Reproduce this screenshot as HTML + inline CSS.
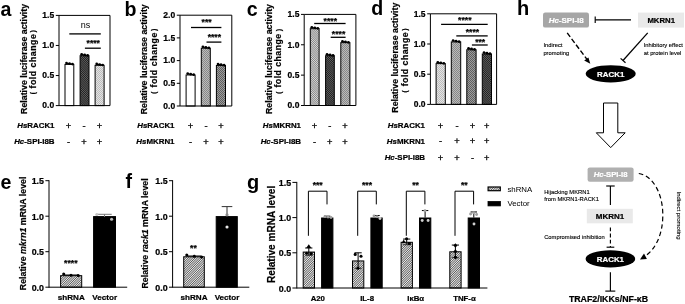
<!DOCTYPE html>
<html><head><meta charset="utf-8"><title>figure</title>
<style>
html,body{margin:0;padding:0;background:#fff;}
svg{display:block;will-change:transform;}
svg text{font-family:"Liberation Sans",sans-serif;}
</style></head><body>
<svg width="685" height="304" viewBox="0 0 685 304">
<rect width="685" height="304" fill="#fff"/>

<defs>
<pattern id="pHatch" width="1.25" height="1.25" patternUnits="userSpaceOnUse" patternTransform="rotate(-45)">
  <rect width="1.25" height="1.25" fill="#f0f0f0"/><rect width="1.25" height="0.56" fill="#484848"/>
</pattern>
<pattern id="pDark" width="1.5" height="1.5" patternUnits="userSpaceOnUse" patternTransform="rotate(45)">
  <rect width="1.5" height="1.5" fill="#626262"/><rect width="1.5" height="0.75" fill="#1e1e1e"/>
</pattern>
<pattern id="pLight" width="2" height="2" patternUnits="userSpaceOnUse">
  <rect width="2" height="2" fill="#e4e4e4"/><rect width="1" height="1" fill="#bcbcbc"/><rect x="1" y="1" width="1" height="1" fill="#bcbcbc"/>
</pattern>
<pattern id="pMed" width="2" height="2" patternUnits="userSpaceOnUse">
  <rect width="2" height="2" fill="#bababa"/><rect width="1" height="1" fill="#888"/><rect x="1" y="1" width="1" height="1" fill="#888"/>
</pattern>
<pattern id="pMed2" width="2" height="2" patternUnits="userSpaceOnUse">
  <rect width="2" height="2" fill="#9c9c9c"/><rect width="1" height="1" fill="#5e5e5e"/><rect x="1" y="1" width="1" height="1" fill="#5e5e5e"/>
</pattern>
<pattern id="pLM" width="1.5" height="1.5" patternUnits="userSpaceOnUse" patternTransform="rotate(45)">
  <rect width="1.5" height="1.5" fill="#dadada"/><rect width="1.5" height="0.75" fill="#828282"/>
</pattern>
</defs>

<text x="0.4" y="16.2" font-size="19.6" font-weight="bold" text-anchor="start" fill="#000"  style="">a</text>
<text transform="translate(27.1,58.9) rotate(-90)" font-size="8.8" font-weight="bold" text-anchor="middle" fill="#000" stroke="#000" stroke-width="0.2">Relative luciferase activity</text>
<text transform="translate(35.9,61.05) rotate(-90)" font-size="8.8" font-weight="bold" text-anchor="middle" stroke="#000" stroke-width="0.2" letter-spacing="0.5">fold change</text>
<text transform="translate(35.4,93.2) rotate(-90)" font-size="6.9" font-weight="bold" text-anchor="middle" fill="#000" stroke="#000" stroke-width="0.2">(</text>
<text transform="translate(35.4,31.45) rotate(-90)" font-size="6.9" font-weight="bold" text-anchor="middle" fill="#000" stroke="#000" stroke-width="0.2">)</text>
<rect x="65.0" y="64.408" width="8.799999999999994" height="41.19199999999999" fill="#fff" stroke="#000" stroke-width="1" />
<line x1="66.5" y1="63.208000000000006" x2="72.5" y2="64.208" stroke="#000" stroke-width="1.1" />
<circle cx="66.5" cy="63.008" r="1.35" fill="#000"/>
<circle cx="69.5" cy="63.608000000000004" r="1.35" fill="#000"/>
<circle cx="72.5" cy="64.108" r="1.35" fill="#000"/>
<rect x="80.1" y="55.68866666666667" width="8.900000000000002" height="49.911333333333324" fill="url(#pDark)" stroke="#000" stroke-width="1" />
<line x1="81.65" y1="54.488666666666674" x2="87.65" y2="55.488666666666674" stroke="#000" stroke-width="1.1" />
<circle cx="81.65" cy="54.28866666666667" r="1.35" fill="#000"/>
<circle cx="84.65" cy="54.88866666666667" r="1.35" fill="#000"/>
<circle cx="87.65" cy="55.38866666666667" r="1.35" fill="#000"/>
<rect x="95.1" y="65.30999999999999" width="8.999999999999996" height="40.290000000000006" fill="url(#pLight)" stroke="#000" stroke-width="1" />
<line x1="96.69999999999999" y1="64.10999999999999" x2="102.69999999999999" y2="65.10999999999999" stroke="#000" stroke-width="1.1" />
<circle cx="96.69999999999999" cy="63.90999999999999" r="1.35" fill="#000"/>
<circle cx="99.69999999999999" cy="64.50999999999999" r="1.35" fill="#000"/>
<circle cx="102.69999999999999" cy="65.00999999999999" r="1.35" fill="#000"/>
<path d="M59 15.4 H110 V105.6 H59 Z" fill="none" stroke="#000" stroke-width="1"/>
<line x1="55.8" y1="105.6" x2="59" y2="105.6" stroke="#000" stroke-width="1" />
<text x="54.2" y="108" font-size="8.5" font-weight="bold" text-anchor="end" fill="#000"  stroke="#000" stroke-width="0.22" style="">0.0</text>
<line x1="55.8" y1="75.53333333333333" x2="59" y2="75.53333333333333" stroke="#000" stroke-width="1" />
<text x="54.2" y="78" font-size="8.5" font-weight="bold" text-anchor="end" fill="#000"  stroke="#000" stroke-width="0.22" style="">0.5</text>
<line x1="55.8" y1="45.46666666666667" x2="59" y2="45.46666666666667" stroke="#000" stroke-width="1" />
<text x="54.2" y="48" font-size="8.5" font-weight="bold" text-anchor="end" fill="#000"  stroke="#000" stroke-width="0.22" style="">1.0</text>
<line x1="55.8" y1="15.400000000000006" x2="59" y2="15.400000000000006" stroke="#000" stroke-width="1" />
<text x="54.2" y="18" font-size="8.5" font-weight="bold" text-anchor="end" fill="#000"  stroke="#000" stroke-width="0.22" style="">1.5</text>
<line x1="69.3" y1="33.9" x2="100.8" y2="33.9" stroke="#000" stroke-width="1.3" />
<text x="85.55" y="27.6" font-size="9" font-weight="normal" text-anchor="middle" fill="#000"  style="">ns</text>
<line x1="84.9" y1="48.2" x2="100.8" y2="48.2" stroke="#000" stroke-width="1.3" />
<text x="93.25" y="46" font-size="8.6" font-weight="bold" text-anchor="middle" fill="#000"  stroke="#000" stroke-width="0.22" style="">****</text>
<text x="54.5" y="128.1" font-size="7.9" font-weight="bold" text-anchor="end" fill="#000"  stroke="#000" stroke-width="0.22" style=""><tspan font-style="italic">Hs</tspan>RACK1</text>
<text x="68.5" y="128.7" font-size="9.3" font-weight="normal" text-anchor="middle" fill="#000" stroke="#000" stroke-width="0.3" style="">+</text>
<text x="84" y="128.7" font-size="9.3" font-weight="normal" text-anchor="middle" fill="#000" stroke="#000" stroke-width="0.3" style="">-</text>
<text x="99.5" y="128.7" font-size="9.3" font-weight="normal" text-anchor="middle" fill="#000" stroke="#000" stroke-width="0.3" style="">+</text>
<text x="54.5" y="144.1" font-size="7.9" font-weight="bold" text-anchor="end" fill="#000"  stroke="#000" stroke-width="0.22" style=""><tspan font-style="italic">Hc</tspan>-SPI-I8B</text>
<text x="68.5" y="144.7" font-size="9.3" font-weight="normal" text-anchor="middle" fill="#000" stroke="#000" stroke-width="0.3" style="">-</text>
<text x="84" y="144.7" font-size="9.3" font-weight="normal" text-anchor="middle" fill="#000" stroke="#000" stroke-width="0.3" style="">+</text>
<text x="99.5" y="144.7" font-size="9.3" font-weight="normal" text-anchor="middle" fill="#000" stroke="#000" stroke-width="0.3" style="">+</text>
<text x="124.4" y="16.2" font-size="19.6" font-weight="bold" text-anchor="start" fill="#000"  style="">b</text>
<text transform="translate(147.3,59.25) rotate(-90)" font-size="8.8" font-weight="bold" text-anchor="middle" fill="#000" stroke="#000" stroke-width="0.2">Relative luciferase activity</text>
<text transform="translate(156.5,59.85) rotate(-90)" font-size="8.8" font-weight="bold" text-anchor="middle" stroke="#000" stroke-width="0.2" letter-spacing="0.55">fold change</text>
<text transform="translate(156.0,92.6) rotate(-90)" font-size="6.9" font-weight="bold" text-anchor="middle" fill="#000" stroke="#000" stroke-width="0.2">(</text>
<text transform="translate(156.0,29.95) rotate(-90)" font-size="6.9" font-weight="bold" text-anchor="middle" fill="#000" stroke="#000" stroke-width="0.2">)</text>
<rect x="186.10000000000002" y="74.974" width="8.999999999999982" height="31.025999999999993" fill="#fff" stroke="#000" stroke-width="1" />
<line x1="187.7" y1="73.774" x2="193.7" y2="74.774" stroke="#000" stroke-width="1.1" />
<circle cx="187.7" cy="73.57400000000001" r="1.35" fill="#000"/>
<circle cx="190.7" cy="74.174" r="1.35" fill="#000"/>
<circle cx="193.7" cy="74.674" r="1.35" fill="#000"/>
<rect x="201.3" y="48.187999999999995" width="9.00000000000001" height="57.812000000000005" fill="url(#pMed)" stroke="#000" stroke-width="1" />
<line x1="202.9" y1="46.988" x2="208.9" y2="47.988" stroke="#000" stroke-width="1.1" />
<circle cx="202.9" cy="46.788" r="1.35" fill="#000"/>
<circle cx="205.9" cy="47.388" r="1.35" fill="#000"/>
<circle cx="208.9" cy="47.888" r="1.35" fill="#000"/>
<rect x="216.4" y="65.44" width="9.100000000000005" height="40.56" fill="url(#pMed2)" stroke="#000" stroke-width="1" />
<line x1="218.05" y1="64.24" x2="224.05" y2="65.24" stroke="#000" stroke-width="1.1" />
<circle cx="218.05" cy="64.04" r="1.35" fill="#000"/>
<circle cx="221.05" cy="64.64" r="1.35" fill="#000"/>
<circle cx="224.05" cy="65.14" r="1.35" fill="#000"/>
<path d="M180 15.2 H231.8 V106 H180 Z" fill="none" stroke="#000" stroke-width="1"/>
<line x1="176.8" y1="106.0" x2="180" y2="106.0" stroke="#000" stroke-width="1" />
<text x="175.2" y="109" font-size="8.5" font-weight="bold" text-anchor="end" fill="#000"  stroke="#000" stroke-width="0.22" style="">0.0</text>
<line x1="176.8" y1="83.3" x2="180" y2="83.3" stroke="#000" stroke-width="1" />
<text x="175.2" y="86" font-size="8.5" font-weight="bold" text-anchor="end" fill="#000"  stroke="#000" stroke-width="0.22" style="">0.5</text>
<line x1="176.8" y1="60.6" x2="180" y2="60.6" stroke="#000" stroke-width="1" />
<text x="175.2" y="63" font-size="8.5" font-weight="bold" text-anchor="end" fill="#000"  stroke="#000" stroke-width="0.22" style="">1.0</text>
<line x1="176.8" y1="37.900000000000006" x2="180" y2="37.900000000000006" stroke="#000" stroke-width="1" />
<text x="175.2" y="41" font-size="8.5" font-weight="bold" text-anchor="end" fill="#000"  stroke="#000" stroke-width="0.22" style="">1.5</text>
<line x1="176.8" y1="15.200000000000003" x2="180" y2="15.200000000000003" stroke="#000" stroke-width="1" />
<text x="175.2" y="18" font-size="8.5" font-weight="bold" text-anchor="end" fill="#000"  stroke="#000" stroke-width="0.22" style="">2.0</text>
<line x1="191" y1="27.5" x2="221.4" y2="27.5" stroke="#000" stroke-width="1.3" />
<text x="206.6" y="25" font-size="8.6" font-weight="bold" text-anchor="middle" fill="#000"  stroke="#000" stroke-width="0.22" style="">***</text>
<line x1="206.5" y1="42.1" x2="221.4" y2="42.1" stroke="#000" stroke-width="1.3" />
<text x="214.35" y="40" font-size="8.6" font-weight="bold" text-anchor="middle" fill="#000"  stroke="#000" stroke-width="0.22" style="">****</text>
<text x="174.5" y="128.1" font-size="7.9" font-weight="bold" text-anchor="end" fill="#000"  stroke="#000" stroke-width="0.22" style=""><tspan font-style="italic">Hs</tspan>RACK1</text>
<text x="190.5" y="128.7" font-size="9.3" font-weight="normal" text-anchor="middle" fill="#000" stroke="#000" stroke-width="0.3" style="">+</text>
<text x="206" y="128.7" font-size="9.3" font-weight="normal" text-anchor="middle" fill="#000" stroke="#000" stroke-width="0.3" style="">-</text>
<text x="221" y="128.7" font-size="9.3" font-weight="normal" text-anchor="middle" fill="#000" stroke="#000" stroke-width="0.3" style="">+</text>
<text x="174.5" y="144.1" font-size="7.9" font-weight="bold" text-anchor="end" fill="#000"  stroke="#000" stroke-width="0.22" style=""><tspan font-style="italic">Hs</tspan>MKRN1</text>
<text x="190.5" y="144.7" font-size="9.3" font-weight="normal" text-anchor="middle" fill="#000" stroke="#000" stroke-width="0.3" style="">-</text>
<text x="206" y="144.7" font-size="9.3" font-weight="normal" text-anchor="middle" fill="#000" stroke="#000" stroke-width="0.3" style="">+</text>
<text x="221" y="144.7" font-size="9.3" font-weight="normal" text-anchor="middle" fill="#000" stroke="#000" stroke-width="0.3" style="">+</text>
<text x="246.7" y="16" font-size="19.6" font-weight="bold" text-anchor="start" fill="#000"  style="">c</text>
<text transform="translate(271.8,59.0) rotate(-90)" font-size="8.8" font-weight="bold" text-anchor="middle" fill="#000" stroke="#000" stroke-width="0.2">Relative luciferase activity</text>
<text transform="translate(281.2,60.45) rotate(-90)" font-size="8.8" font-weight="bold" text-anchor="middle" stroke="#000" stroke-width="0.2" letter-spacing="0.44">fold change</text>
<text transform="translate(280.7,92.5) rotate(-90)" font-size="6.9" font-weight="bold" text-anchor="middle" fill="#000" stroke="#000" stroke-width="0.2">(</text>
<text transform="translate(280.7,30.0) rotate(-90)" font-size="6.9" font-weight="bold" text-anchor="middle" fill="#000" stroke="#000" stroke-width="0.2">)</text>
<rect x="310.3" y="28.66866666666667" width="8.800000000000022" height="76.83133333333333" fill="url(#pLM)" stroke="#000" stroke-width="1" />
<line x1="311.8" y1="27.46866666666667" x2="317.8" y2="28.46866666666667" stroke="#000" stroke-width="1.1" />
<circle cx="311.8" cy="27.268666666666668" r="1.35" fill="#000"/>
<circle cx="314.8" cy="27.86866666666667" r="1.35" fill="#000"/>
<circle cx="317.8" cy="28.36866666666667" r="1.35" fill="#000"/>
<rect x="325.6" y="55.69500000000001" width="8.7" height="49.80499999999999" fill="url(#pDark)" stroke="#000" stroke-width="1" />
<line x1="327.05" y1="54.49500000000001" x2="333.05" y2="55.49500000000001" stroke="#000" stroke-width="1.1" />
<circle cx="327.05" cy="54.29500000000001" r="1.35" fill="#000"/>
<circle cx="330.05" cy="54.89500000000001" r="1.35" fill="#000"/>
<circle cx="333.05" cy="55.39500000000001" r="1.35" fill="#000"/>
<rect x="340.8" y="42.63733333333334" width="9.099999999999977" height="62.86266666666666" fill="url(#pMed)" stroke="#000" stroke-width="1" />
<line x1="342.45" y1="41.43733333333334" x2="348.45" y2="42.43733333333334" stroke="#000" stroke-width="1.1" />
<circle cx="342.45" cy="41.23733333333334" r="1.35" fill="#000"/>
<circle cx="345.45" cy="41.83733333333334" r="1.35" fill="#000"/>
<circle cx="348.45" cy="42.33733333333334" r="1.35" fill="#000"/>
<path d="M304.2 14.4 H355.9 V105.5 H304.2 Z" fill="none" stroke="#000" stroke-width="1"/>
<line x1="301.0" y1="105.5" x2="304.2" y2="105.5" stroke="#000" stroke-width="1" />
<text x="299.4" y="108" font-size="8.5" font-weight="bold" text-anchor="end" fill="#000"  stroke="#000" stroke-width="0.22" style="">0.0</text>
<line x1="301.0" y1="75.13333333333334" x2="304.2" y2="75.13333333333334" stroke="#000" stroke-width="1" />
<text x="299.4" y="78" font-size="8.5" font-weight="bold" text-anchor="end" fill="#000"  stroke="#000" stroke-width="0.22" style="">0.5</text>
<line x1="301.0" y1="44.76666666666667" x2="304.2" y2="44.76666666666667" stroke="#000" stroke-width="1" />
<text x="299.4" y="48" font-size="8.5" font-weight="bold" text-anchor="end" fill="#000"  stroke="#000" stroke-width="0.22" style="">1.0</text>
<line x1="301.0" y1="14.400000000000006" x2="304.2" y2="14.400000000000006" stroke="#000" stroke-width="1" />
<text x="299.4" y="17" font-size="8.5" font-weight="bold" text-anchor="end" fill="#000"  stroke="#000" stroke-width="0.22" style="">1.5</text>
<line x1="314.2" y1="23.5" x2="345.6" y2="23.5" stroke="#000" stroke-width="1.3" />
<text x="330.29999999999995" y="24" font-size="8.6" font-weight="bold" text-anchor="middle" fill="#000"  stroke="#000" stroke-width="0.22" style="">****</text>
<line x1="330.7" y1="37.3" x2="345.6" y2="37.3" stroke="#000" stroke-width="1.3" />
<text x="338.54999999999995" y="37" font-size="8.6" font-weight="bold" text-anchor="middle" fill="#000"  stroke="#000" stroke-width="0.22" style="">****</text>
<text x="301" y="128.1" font-size="7.9" font-weight="bold" text-anchor="end" fill="#000"  stroke="#000" stroke-width="0.22" style=""><tspan font-style="italic">Hs</tspan>MKRN1</text>
<text x="314.5" y="128.7" font-size="9.3" font-weight="normal" text-anchor="middle" fill="#000" stroke="#000" stroke-width="0.3" style="">+</text>
<text x="329.7" y="128.7" font-size="9.3" font-weight="normal" text-anchor="middle" fill="#000" stroke="#000" stroke-width="0.3" style="">-</text>
<text x="345" y="128.7" font-size="9.3" font-weight="normal" text-anchor="middle" fill="#000" stroke="#000" stroke-width="0.3" style="">+</text>
<text x="301" y="144.1" font-size="7.9" font-weight="bold" text-anchor="end" fill="#000"  stroke="#000" stroke-width="0.22" style=""><tspan font-style="italic">Hc</tspan>-SPI-I8B</text>
<text x="314.5" y="144.7" font-size="9.3" font-weight="normal" text-anchor="middle" fill="#000" stroke="#000" stroke-width="0.3" style="">-</text>
<text x="329.7" y="144.7" font-size="9.3" font-weight="normal" text-anchor="middle" fill="#000" stroke="#000" stroke-width="0.3" style="">+</text>
<text x="345" y="144.7" font-size="9.3" font-weight="normal" text-anchor="middle" fill="#000" stroke="#000" stroke-width="0.3" style="">+</text>
<text x="371.3" y="15.3" font-size="19.6" font-weight="bold" text-anchor="start" fill="#000"  style="">d</text>
<text transform="translate(398.3,57.7) rotate(-90)" font-size="8.8" font-weight="bold" text-anchor="middle" fill="#000" stroke="#000" stroke-width="0.2">Relative luciferase activity</text>
<text transform="translate(407.7,59.1) rotate(-90)" font-size="8.8" font-weight="bold" text-anchor="middle" stroke="#000" stroke-width="0.2" letter-spacing="0.47">fold change</text>
<text transform="translate(407.2,91.3) rotate(-90)" font-size="6.9" font-weight="bold" text-anchor="middle" fill="#000" stroke="#000" stroke-width="0.2">(</text>
<text transform="translate(407.2,29.65) rotate(-90)" font-size="6.9" font-weight="bold" text-anchor="middle" fill="#000" stroke="#000" stroke-width="0.2">)</text>
<rect x="436.1" y="63.62799999999999" width="9.2" height="40.77200000000001" fill="url(#pLight)" stroke="#000" stroke-width="1" />
<line x1="437.8" y1="62.428" x2="443.8" y2="63.428" stroke="#000" stroke-width="1.1" />
<circle cx="437.8" cy="62.227999999999994" r="1.35" fill="#000"/>
<circle cx="440.8" cy="62.827999999999996" r="1.35" fill="#000"/>
<circle cx="443.8" cy="63.327999999999996" r="1.35" fill="#000"/>
<rect x="451.3" y="41.88399999999999" width="9.399999999999988" height="62.51600000000001" fill="url(#pMed)" stroke="#000" stroke-width="1" />
<line x1="453.1" y1="40.684" x2="459.1" y2="41.684" stroke="#000" stroke-width="1.1" />
<circle cx="453.1" cy="40.483999999999995" r="1.35" fill="#000"/>
<circle cx="456.1" cy="41.083999999999996" r="1.35" fill="#000"/>
<circle cx="459.1" cy="41.583999999999996" r="1.35" fill="#000"/>
<rect x="466.8" y="49.736" width="9.300000000000022" height="54.66400000000001" fill="url(#pMed2)" stroke="#000" stroke-width="1" />
<line x1="468.55" y1="48.536" x2="474.55" y2="49.536" stroke="#000" stroke-width="1.1" />
<circle cx="468.55" cy="48.336" r="1.35" fill="#000"/>
<circle cx="471.55" cy="48.936" r="1.35" fill="#000"/>
<circle cx="474.55" cy="49.436" r="1.35" fill="#000"/>
<rect x="482.3" y="53.964" width="9.2" height="50.43600000000001" fill="url(#pDark)" stroke="#000" stroke-width="1" />
<line x1="484.0" y1="52.764" x2="490.0" y2="53.764" stroke="#000" stroke-width="1.1" />
<circle cx="484.0" cy="52.564" r="1.35" fill="#000"/>
<circle cx="487.0" cy="53.164" r="1.35" fill="#000"/>
<circle cx="490.0" cy="53.664" r="1.35" fill="#000"/>
<path d="M430.4 13.8 H496.6 V104.4 H430.4 Z" fill="none" stroke="#000" stroke-width="1"/>
<line x1="427.2" y1="104.4" x2="430.4" y2="104.4" stroke="#000" stroke-width="1" />
<text x="425.59999999999997" y="107" font-size="8.5" font-weight="bold" text-anchor="end" fill="#000"  stroke="#000" stroke-width="0.22" style="">0.0</text>
<line x1="427.2" y1="74.2" x2="430.4" y2="74.2" stroke="#000" stroke-width="1" />
<text x="425.59999999999997" y="77" font-size="8.5" font-weight="bold" text-anchor="end" fill="#000"  stroke="#000" stroke-width="0.22" style="">0.5</text>
<line x1="427.2" y1="44.0" x2="430.4" y2="44.0" stroke="#000" stroke-width="1" />
<text x="425.59999999999997" y="47" font-size="8.5" font-weight="bold" text-anchor="end" fill="#000"  stroke="#000" stroke-width="0.22" style="">1.0</text>
<line x1="427.2" y1="13.799999999999997" x2="430.4" y2="13.799999999999997" stroke="#000" stroke-width="1" />
<text x="425.59999999999997" y="17" font-size="8.5" font-weight="bold" text-anchor="end" fill="#000"  stroke="#000" stroke-width="0.22" style="">1.5</text>
<line x1="441.1" y1="24.3" x2="487.7" y2="24.3" stroke="#000" stroke-width="1.3" />
<text x="464.79999999999995" y="23" font-size="8.6" font-weight="bold" text-anchor="middle" fill="#000"  stroke="#000" stroke-width="0.22" style="">****</text>
<line x1="456.3" y1="35.9" x2="487.7" y2="35.9" stroke="#000" stroke-width="1.3" />
<text x="472.4" y="35" font-size="8.6" font-weight="bold" text-anchor="middle" fill="#000"  stroke="#000" stroke-width="0.22" style="">****</text>
<line x1="471.9" y1="45" x2="487.7" y2="45" stroke="#000" stroke-width="1.3" />
<text x="480.19999999999993" y="45" font-size="8.6" font-weight="bold" text-anchor="middle" fill="#000"  stroke="#000" stroke-width="0.22" style="">***</text>
<text x="425" y="128.1" font-size="7.9" font-weight="bold" text-anchor="end" fill="#000"  stroke="#000" stroke-width="0.22" style=""><tspan font-style="italic">Hs</tspan>RACK1</text>
<text x="440.5" y="128.7" font-size="9.3" font-weight="normal" text-anchor="middle" fill="#000" stroke="#000" stroke-width="0.3" style="">+</text>
<text x="457" y="128.7" font-size="9.3" font-weight="normal" text-anchor="middle" fill="#000" stroke="#000" stroke-width="0.3" style="">-</text>
<text x="472.5" y="128.7" font-size="9.3" font-weight="normal" text-anchor="middle" fill="#000" stroke="#000" stroke-width="0.3" style="">+</text>
<text x="486.7" y="128.7" font-size="9.3" font-weight="normal" text-anchor="middle" fill="#000" stroke="#000" stroke-width="0.3" style="">+</text>
<text x="425" y="143.8" font-size="7.9" font-weight="bold" text-anchor="end" fill="#000"  stroke="#000" stroke-width="0.22" style=""><tspan font-style="italic">Hs</tspan>MKRN1</text>
<text x="440.5" y="144.4" font-size="9.3" font-weight="normal" text-anchor="middle" fill="#000" stroke="#000" stroke-width="0.3" style="">-</text>
<text x="457" y="144.4" font-size="9.3" font-weight="normal" text-anchor="middle" fill="#000" stroke="#000" stroke-width="0.3" style="">+</text>
<text x="472.5" y="144.4" font-size="9.3" font-weight="normal" text-anchor="middle" fill="#000" stroke="#000" stroke-width="0.3" style="">+</text>
<text x="486.7" y="144.4" font-size="9.3" font-weight="normal" text-anchor="middle" fill="#000" stroke="#000" stroke-width="0.3" style="">+</text>
<text x="425" y="160.1" font-size="7.9" font-weight="bold" text-anchor="end" fill="#000"  stroke="#000" stroke-width="0.22" style=""><tspan font-style="italic">Hc</tspan>-SPI-I8B</text>
<text x="440.5" y="160.7" font-size="9.3" font-weight="normal" text-anchor="middle" fill="#000" stroke="#000" stroke-width="0.3" style="">+</text>
<text x="457" y="160.7" font-size="9.3" font-weight="normal" text-anchor="middle" fill="#000" stroke="#000" stroke-width="0.3" style="">+</text>
<text x="472.5" y="160.7" font-size="9.3" font-weight="normal" text-anchor="middle" fill="#000" stroke="#000" stroke-width="0.3" style="">-</text>
<text x="486.7" y="160.7" font-size="9.3" font-weight="normal" text-anchor="middle" fill="#000" stroke="#000" stroke-width="0.3" style="">+</text>
<text x="0.6" y="188.7" font-size="19.6" font-weight="bold" text-anchor="start" fill="#000"  style="">e</text>
<text transform="translate(26,233.4) rotate(-90)" font-size="8.8" font-weight="bold" text-anchor="middle" fill="#000" stroke="#000" stroke-width="0.2">Relative <tspan font-style="italic">mkrn1</tspan> mRNA level</text>
<rect x="60.599999999999994" y="275.67199999999997" width="21.100000000000005" height="11.527999999999997" fill="url(#pHatch)" stroke="#000" stroke-width="1" />
<rect x="93.6" y="216.6" width="21.900000000000002" height="70.6" fill="#000" stroke="#000" stroke-width="1" />
<line x1="71.2" y1="275.0" x2="71.2" y2="276" stroke="#000" stroke-width="1" />
<line x1="64.2" y1="275.0" x2="78.2" y2="275.0" stroke="#000" stroke-width="1" />
<line x1="104.5" y1="214.3" x2="104.5" y2="217" stroke="#777" stroke-width="1" />
<line x1="97.3" y1="214.3" x2="111.7" y2="214.3" stroke="#777" stroke-width="1" />
<circle cx="63.7" cy="274.0" r="1.55" fill="#000"/>
<circle cx="71" cy="275.2" r="1.55" fill="#000"/>
<circle cx="78.2" cy="275.5" r="1.55" fill="#000"/>
<circle cx="96.8" cy="214.5" r="1.55" fill="#c4c4c4"/>
<circle cx="111.6" cy="219.2" r="1.55" fill="#bbb"/>
<line x1="49" y1="180.2" x2="49" y2="287.7" stroke="#000" stroke-width="1" />
<line x1="49" y1="287.2" x2="127.2" y2="287.2" stroke="#000" stroke-width="1" />
<line x1="45.4" y1="287.2" x2="49" y2="287.2" stroke="#000" stroke-width="1" />
<text x="44.0" y="290.5" font-size="8.85" font-weight="bold" text-anchor="end" fill="#000"  stroke="#000" stroke-width="0.22" style="">0.0</text>
<line x1="45.4" y1="251.7" x2="49" y2="251.7" stroke="#000" stroke-width="1" />
<text x="44.0" y="255.0" font-size="8.85" font-weight="bold" text-anchor="end" fill="#000"  stroke="#000" stroke-width="0.22" style="">0.5</text>
<line x1="45.4" y1="216.2" x2="49" y2="216.2" stroke="#000" stroke-width="1" />
<text x="44.0" y="219.5" font-size="8.85" font-weight="bold" text-anchor="end" fill="#000"  stroke="#000" stroke-width="0.22" style="">1.0</text>
<line x1="45.4" y1="180.7" x2="49" y2="180.7" stroke="#000" stroke-width="1" />
<text x="44.0" y="184.0" font-size="8.85" font-weight="bold" text-anchor="end" fill="#000"  stroke="#000" stroke-width="0.22" style="">1.5</text>
<text x="70.8" y="266" font-size="8.6" font-weight="bold" text-anchor="middle" fill="#000"  stroke="#000" stroke-width="0.22" style="">****</text>
<text x="71.3" y="300.4" font-size="8.1" font-weight="bold" text-anchor="middle" fill="#000"  stroke="#000" stroke-width="0.22" style="">shRNA</text>
<text x="104.7" y="300.4" font-size="8.1" font-weight="bold" text-anchor="middle" fill="#000"  stroke="#000" stroke-width="0.22" style="">Vector</text>
<text x="125.6" y="187.8" font-size="19.6" font-weight="bold" text-anchor="start" fill="#000"  style="">f</text>
<text transform="translate(148.2,233.4) rotate(-90)" font-size="8.8" font-weight="bold" text-anchor="middle" fill="#000" stroke="#000" stroke-width="0.2">Relative <tspan font-style="italic">rack1</tspan> mRNA level</text>
<rect x="183.70000000000002" y="256.78599999999994" width="20.600000000000005" height="30.414000000000023" fill="url(#pHatch)" stroke="#000" stroke-width="1" />
<rect x="216.20000000000002" y="216.6" width="21.100000000000005" height="70.6" fill="#000" stroke="#000" stroke-width="1" />
<line x1="194.2" y1="256.0" x2="194.2" y2="257" stroke="#000" stroke-width="1" />
<line x1="187.2" y1="256.0" x2="201.2" y2="256.0" stroke="#000" stroke-width="1" />
<line x1="227" y1="206.6" x2="227" y2="217" stroke="#333" stroke-width="1" />
<line x1="221.7" y1="206.6" x2="232.3" y2="206.6" stroke="#333" stroke-width="1" />
<circle cx="186.8" cy="255.0" r="1.55" fill="#000"/>
<circle cx="194.3" cy="256.3" r="1.55" fill="#000"/>
<circle cx="201.6" cy="257.1" r="1.55" fill="#000"/>
<circle cx="227" cy="214.7" r="1.55" fill="#8a8a8a"/>
<circle cx="227" cy="227" r="1.55" fill="#e8e8e8"/>
<line x1="172.6" y1="180.2" x2="172.6" y2="287.7" stroke="#000" stroke-width="1" />
<line x1="172.6" y1="287.2" x2="249.3" y2="287.2" stroke="#000" stroke-width="1" />
<line x1="169.0" y1="287.2" x2="172.6" y2="287.2" stroke="#000" stroke-width="1" />
<text x="167.6" y="290.5" font-size="8.85" font-weight="bold" text-anchor="end" fill="#000"  stroke="#000" stroke-width="0.22" style="">0.0</text>
<line x1="169.0" y1="251.7" x2="172.6" y2="251.7" stroke="#000" stroke-width="1" />
<text x="167.6" y="255.0" font-size="8.85" font-weight="bold" text-anchor="end" fill="#000"  stroke="#000" stroke-width="0.22" style="">0.5</text>
<line x1="169.0" y1="216.2" x2="172.6" y2="216.2" stroke="#000" stroke-width="1" />
<text x="167.6" y="219.5" font-size="8.85" font-weight="bold" text-anchor="end" fill="#000"  stroke="#000" stroke-width="0.22" style="">1.0</text>
<line x1="169.0" y1="180.7" x2="172.6" y2="180.7" stroke="#000" stroke-width="1" />
<text x="167.6" y="184.0" font-size="8.85" font-weight="bold" text-anchor="end" fill="#000"  stroke="#000" stroke-width="0.22" style="">1.5</text>
<text x="193.4" y="251" font-size="8.6" font-weight="bold" text-anchor="middle" fill="#000"  stroke="#000" stroke-width="0.22" style="">**</text>
<text x="194" y="300.4" font-size="8.1" font-weight="bold" text-anchor="middle" fill="#000"  stroke="#000" stroke-width="0.22" style="">shRNA</text>
<text x="227" y="300.4" font-size="8.1" font-weight="bold" text-anchor="middle" fill="#000"  stroke="#000" stroke-width="0.22" style="">Vector</text>
<text x="247" y="188.8" font-size="20" font-weight="bold" text-anchor="start" fill="#000"  style="">g</text>
<text transform="translate(274.6,234.4) rotate(-90)" font-size="10.1" font-weight="bold" text-anchor="middle" fill="#000" stroke="#000" stroke-width="0.2">Relative mRNA level</text>
<rect x="303.2" y="252.0736" width="11.3" height="35.92640000000001" fill="url(#pHatch)" stroke="#000" stroke-width="1" />
<rect x="321.59999999999997" y="218.0" width="11.3" height="70.0" fill="#000" stroke="#000" stroke-width="1" />
<line x1="308.79999999999995" y1="248.0128" x2="308.79999999999995" y2="255.3344" stroke="#000" stroke-width="1" />
<line x1="305.19999999999993" y1="248.0128" x2="312.4" y2="248.0128" stroke="#000" stroke-width="1" />
<line x1="305.19999999999993" y1="255.3344" x2="312.4" y2="255.3344" stroke="#333" stroke-width="1" />
<path d="M306.2 248.0 L311.40000000000003 248.0 L308.8 244.3 Z" fill="#000"/>
<circle cx="306.6" cy="253.3" r="1.55" fill="#000"/>
<rect x="309.75" y="252.15" width="2.9" height="2.9" fill="#000"/>
<line x1="327.19999999999993" y1="216.192" x2="327.19999999999993" y2="217.6" stroke="#000" stroke-width="1" />
<line x1="323.99999999999994" y1="216.192" x2="330.3999999999999" y2="216.192" stroke="#000" stroke-width="1" />
<circle cx="325" cy="216.5" r="1.45" fill="#a0a0a0"/>
<circle cx="328" cy="217" r="1.45" fill="#a0a0a0"/>
<circle cx="331" cy="217.5" r="1.45" fill="#a0a0a0"/>
<path d="M308.4 235.8 V191.2 H327.0 V204.4" fill="none" stroke="#000" stroke-width="1"/>
<text x="317.7" y="188.3" font-size="8.6" font-weight="bold" text-anchor="middle" fill="#000"  stroke="#000" stroke-width="0.22" style="">***</text>
<text x="317.79999999999995" y="301" font-size="7.8" font-weight="bold" text-anchor="middle" fill="#000"  stroke="#000" stroke-width="0.22" style="">A20</text>
<rect x="352.5" y="260.94399999999996" width="11.3" height="27.05600000000002" fill="url(#pHatch)" stroke="#000" stroke-width="1" />
<rect x="370.9" y="218.0" width="11.3" height="70.0" fill="#000" stroke="#000" stroke-width="1" />
<line x1="358.09999999999997" y1="252.8" x2="358.09999999999997" y2="268.288" stroke="#000" stroke-width="1" />
<line x1="354.49999999999994" y1="252.8" x2="361.7" y2="252.8" stroke="#000" stroke-width="1" />
<line x1="354.49999999999994" y1="268.288" x2="361.7" y2="268.288" stroke="#333" stroke-width="1" />
<circle cx="355.2" cy="254.4" r="1.55" fill="#000"/>
<circle cx="361" cy="256.3" r="1.55" fill="#000"/>
<circle cx="358" cy="268.2" r="1.55" fill="#000"/>
<line x1="376.49999999999994" y1="215.488" x2="376.49999999999994" y2="217.6" stroke="#000" stroke-width="1" />
<line x1="373.29999999999995" y1="215.488" x2="379.69999999999993" y2="215.488" stroke="#000" stroke-width="1" />
<circle cx="374" cy="216" r="1.45" fill="#a0a0a0"/>
<circle cx="377" cy="216.8" r="1.45" fill="#a0a0a0"/>
<circle cx="380" cy="218.5" r="1.45" fill="#cfcfcf"/>
<path d="M357.7 235.8 V191.2 H376.3 V204.4" fill="none" stroke="#000" stroke-width="1"/>
<text x="367.0" y="188.3" font-size="8.6" font-weight="bold" text-anchor="middle" fill="#000"  stroke="#000" stroke-width="0.22" style="">***</text>
<text x="367.09999999999997" y="301" font-size="7.8" font-weight="bold" text-anchor="middle" fill="#000"  stroke="#000" stroke-width="0.22" style="">IL-8</text>
<rect x="401.1" y="242.28799999999998" width="11.3" height="45.712000000000025" fill="url(#pHatch)" stroke="#000" stroke-width="1" />
<rect x="419.5" y="218.0" width="11.3" height="70.0" fill="#000" stroke="#000" stroke-width="1" />
<line x1="406.7" y1="239.072" x2="406.7" y2="244.704" stroke="#000" stroke-width="1" />
<line x1="403.09999999999997" y1="239.072" x2="410.3" y2="239.072" stroke="#000" stroke-width="1" />
<line x1="403.09999999999997" y1="244.704" x2="410.3" y2="244.704" stroke="#333" stroke-width="1" />
<circle cx="406.6" cy="238.8" r="1.55" fill="#000"/>
<path d="M401.7 243.0 L405.7 243.0 L403.7 239.5 Z" fill="#000"/>
<rect x="407.95" y="242.05" width="2.9" height="2.9" fill="#000"/>
<line x1="425.09999999999997" y1="210.56" x2="425.09999999999997" y2="217.6" stroke="#000" stroke-width="1" />
<line x1="421.9" y1="210.56" x2="428.29999999999995" y2="210.56" stroke="#000" stroke-width="1" />
<circle cx="422.2" cy="220.5" r="1.45" fill="#cfcfcf"/>
<circle cx="428.1" cy="220.5" r="1.45" fill="#cfcfcf"/>
<circle cx="425" cy="210.8" r="1.45" fill="#a0a0a0"/>
<path d="M406.3 235.8 V191.2 H424.90000000000003 V204.4" fill="none" stroke="#000" stroke-width="1"/>
<text x="415.6" y="188.3" font-size="8.6" font-weight="bold" text-anchor="middle" fill="#000"  stroke="#000" stroke-width="0.22" style="">**</text>
<text x="415.7" y="301" font-size="7.8" font-weight="bold" text-anchor="middle" fill="#000"  stroke="#000" stroke-width="0.22" style="">IκBα</text>
<rect x="449.8" y="251.792" width="11.3" height="36.208000000000006" fill="url(#pHatch)" stroke="#000" stroke-width="1" />
<rect x="468.2" y="218.0" width="11.3" height="70.0" fill="#000" stroke="#000" stroke-width="1" />
<line x1="455.4" y1="245.05599999999998" x2="455.4" y2="257.728" stroke="#000" stroke-width="1" />
<line x1="451.79999999999995" y1="245.05599999999998" x2="459.0" y2="245.05599999999998" stroke="#000" stroke-width="1" />
<line x1="451.79999999999995" y1="257.728" x2="459.0" y2="257.728" stroke="#333" stroke-width="1" />
<path d="M453.4 245.5 L455.4 243.3 L457.4 245.5 L455.4 247.7 Z" fill="#000"/>
<path d="M453.4 251.5 L455.4 249.3 L457.4 251.5 L455.4 253.7 Z" fill="#000"/>
<path d="M453.4 257.2 L455.4 255.0 L457.4 257.2 L455.4 259.4 Z" fill="#000"/>
<line x1="473.79999999999995" y1="211.968" x2="473.79999999999995" y2="217.6" stroke="#000" stroke-width="1" />
<line x1="470.59999999999997" y1="211.968" x2="476.99999999999994" y2="211.968" stroke="#000" stroke-width="1" />
<circle cx="470.6" cy="214" r="1.45" fill="#a0a0a0"/>
<circle cx="473.6" cy="212.8" r="1.45" fill="#a0a0a0"/>
<circle cx="476.6" cy="214.5" r="1.45" fill="#a0a0a0"/>
<circle cx="474" cy="224" r="1.45" fill="#cfcfcf"/>
<path d="M455.0 235.8 V191.2 H473.6 V204.4" fill="none" stroke="#000" stroke-width="1"/>
<text x="464.3" y="188.3" font-size="8.6" font-weight="bold" text-anchor="middle" fill="#000"  stroke="#000" stroke-width="0.22" style="">**</text>
<text x="464.4" y="301" font-size="7.8" font-weight="bold" text-anchor="middle" fill="#000"  stroke="#000" stroke-width="0.22" style="">TNF-α</text>
<line x1="296.8" y1="181.89999999999998" x2="296.8" y2="288.5" stroke="#000" stroke-width="1" />
<line x1="296.8" y1="288.0" x2="487.4" y2="288.0" stroke="#000" stroke-width="1" />
<line x1="292.40000000000003" y1="288.0" x2="296.8" y2="288.0" stroke="#000" stroke-width="1" />
<text x="291.2" y="291.5" font-size="8.9" font-weight="bold" text-anchor="end" fill="#000"  stroke="#000" stroke-width="0.22" style="">0.0</text>
<line x1="292.40000000000003" y1="252.8" x2="296.8" y2="252.8" stroke="#000" stroke-width="1" />
<text x="291.2" y="256.3" font-size="8.9" font-weight="bold" text-anchor="end" fill="#000"  stroke="#000" stroke-width="0.22" style="">0.5</text>
<line x1="292.40000000000003" y1="217.6" x2="296.8" y2="217.6" stroke="#000" stroke-width="1" />
<text x="291.2" y="221.1" font-size="8.9" font-weight="bold" text-anchor="end" fill="#000"  stroke="#000" stroke-width="0.22" style="">1.0</text>
<line x1="292.40000000000003" y1="182.39999999999998" x2="296.8" y2="182.39999999999998" stroke="#000" stroke-width="1" />
<text x="291.2" y="185.9" font-size="8.9" font-weight="bold" text-anchor="end" fill="#000"  stroke="#000" stroke-width="0.22" style="">1.5</text>
<rect x="488.1" y="187" width="12.2" height="3.7" fill="url(#pHatch)" stroke="#000" stroke-width="1.2" />
<rect x="488" y="201.5" width="12.4" height="4.4" fill="#000" stroke="#000" stroke-width="0.8" />
<text x="507.4" y="191.5" font-size="7.85" font-weight="normal" text-anchor="start" fill="#000"  style="">shRNA</text>
<text x="507.4" y="206.3" font-size="7.85" font-weight="normal" text-anchor="start" fill="#000"  style="">Vector</text>
<text x="517" y="14.8" font-size="20" font-weight="bold" text-anchor="start" fill="#000"  style="">h</text>
<rect x="543" y="12.6" width="46" height="15" rx="2.2" fill="#a6a6a6"/>
<text x="566.2" y="23" font-size="8.0" font-weight="bold" text-anchor="middle" fill="#fff"  stroke="#fff" stroke-width="0.22" style=""><tspan font-style="italic">Hc</tspan>-SPI-I8</text>
<rect x="638" y="12.6" width="46" height="15" fill="#e9e9e9"/>
<text x="661.2" y="23" font-size="7.75" font-weight="bold" text-anchor="middle" fill="#000"  stroke="#000" stroke-width="0.22" style="">MKRN1</text>
<line x1="595.2" y1="19.8" x2="631" y2="19.8" stroke="#000" stroke-width="1.15" />
<line x1="595.2" y1="16.6" x2="595.2" y2="23" stroke="#000" stroke-width="1.15" />
<line x1="567.2" y1="32.9" x2="587.0" y2="59.4" stroke="#000" stroke-width="1.4" stroke-dasharray="5 2.4"/>
<path d="M590.3 63.8 L584.2 60.6 L588.4 57.4 Z" fill="#000"/>
<line x1="647.7" y1="32.9" x2="623.0" y2="60.5" stroke="#000" stroke-width="1.25" />
<line x1="620.6" y1="58.4" x2="625.5" y2="62.7" stroke="#000" stroke-width="1.25" />
<text x="543.4" y="47.2" font-size="5.8" font-weight="normal" text-anchor="start" fill="#000" stroke="#000" stroke-width="0.12" style="">Indirect</text>
<text x="543.4" y="54.8" font-size="5.8" font-weight="normal" text-anchor="start" fill="#000" stroke="#000" stroke-width="0.12" style="">promoting</text>
<text x="643.7" y="47.2" font-size="5.8" font-weight="normal" text-anchor="start" fill="#000" stroke="#000" stroke-width="0.12" style="">Inhibitory effect</text>
<text x="643.7" y="54.8" font-size="5.8" font-weight="normal" text-anchor="start" fill="#000" stroke="#000" stroke-width="0.12" style="">at protein level</text>
<ellipse cx="610.7" cy="73.8" rx="25" ry="8.6" fill="#000"/>
<text x="610.7" y="76.7" font-size="7.9" font-weight="bold" text-anchor="middle" fill="#fff"  stroke="#fff" stroke-width="0.22" style="">RACK1</text>
<path d="M603.5 103 H617.8 V132.8 H625.2 L610.7 147.6 L596.3 132.8 H603.5 Z" fill="#fff" stroke="#000" stroke-width="1"/>
<rect x="587.6" y="167.4" width="46" height="14.4" rx="2.2" fill="#b0b0b0"/>
<text x="610.6" y="177.4" font-size="7.7" font-weight="bold" text-anchor="middle" fill="#fff"  stroke="#fff" stroke-width="0.22" style=""><tspan font-style="italic">Hc</tspan>-SPI-I8</text>
<line x1="606.2" y1="186" x2="614.7" y2="186" stroke="#000" stroke-width="1.15" />
<line x1="610.4" y1="186" x2="610.4" y2="205" stroke="#000" stroke-width="1.15" />
<rect x="586.8" y="208.8" width="46" height="14.5" fill="#e9e9e9"/>
<text x="610" y="218.9" font-size="8" font-weight="bold" text-anchor="middle" fill="#000"  stroke="#000" stroke-width="0.22" style="">MKRN1</text>
<line x1="610.4" y1="227.4" x2="610.4" y2="247" stroke="#000" stroke-width="1.15" stroke-dasharray="3.8 2.4"/>
<line x1="606.6" y1="247.2" x2="614.3" y2="247.2" stroke="#000" stroke-width="1.15" />
<ellipse cx="610.4" cy="258.9" rx="24.8" ry="8.6" fill="#000"/>
<text x="610.4" y="261.8" font-size="7.9" font-weight="bold" text-anchor="middle" fill="#fff"  stroke="#fff" stroke-width="0.22" style="">RACK1</text>
<line x1="610.4" y1="272.2" x2="610.4" y2="291.1" stroke="#000" stroke-width="1.15" />
<line x1="605.3" y1="291.1" x2="615.3" y2="291.1" stroke="#000" stroke-width="1.15" />
<text x="608.5" y="302" font-size="8.8" font-weight="bold" text-anchor="middle" fill="#000"  stroke="#000" stroke-width="0.22" style="">TRAF2/IKKs/NF-κB</text>
<text x="544.2" y="193.7" font-size="5.8" font-weight="normal" text-anchor="start" fill="#000" stroke="#000" stroke-width="0.12" style="">Hijacking MKRN1</text>
<text x="544.2" y="201" font-size="5.8" font-weight="normal" text-anchor="start" fill="#000" stroke="#000" stroke-width="0.12" style="">from MKRN1-RACK1</text>
<text x="544.2" y="238.7" font-size="5.8" font-weight="normal" text-anchor="start" fill="#000" stroke="#000" stroke-width="0.12" style="">Compromised inhibition</text>
<text transform="translate(676.9,215.5) rotate(90)" font-size="6.0" font-weight="normal" text-anchor="middle" fill="#000" stroke="#000" stroke-width="0.1">Indirect promoting</text>
<path d="M638.8 173.5 C652 175.5 662.8 192 662.8 215 C662.8 236 654.5 250 645 256.3" fill="none" stroke="#000" stroke-width="1.2" stroke-dasharray="4.6 3"/>
<path d="M640.0 259.6 L646.9 258.9 L644.0 253.4 Z" fill="#000"/>
</svg>
</body></html>
